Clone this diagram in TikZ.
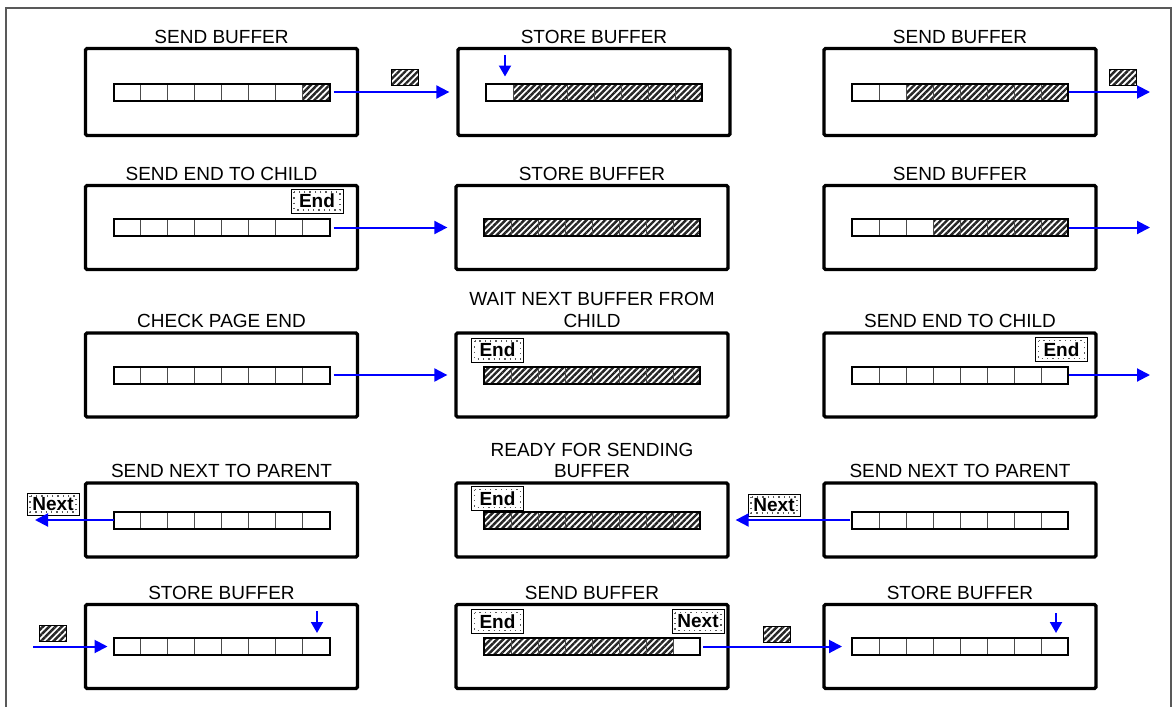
\documentclass[tikz,border=0pt]{standalone}
\usepackage{fontspec}
\setmainfont{Liberation Sans}
\usetikzlibrary{positioning,arrows.meta,patterns.meta}

% cells of a buffer: #1 buffer node, #2 first and #3 last hatched cell (0 = none)
\newcommand{\bufcells}[3]{%
  \ifnum#2>0
    \path[hatch] ([xshift=#2*27pt-27pt]#1.south west) rectangle ([xshift=#3*27pt]#1.north west);
  \fi
  \foreach \cellno in {1,...,7}
    \draw[divider] ([xshift=\cellno*27pt]#1.south west) -- ([xshift=\cellno*27pt]#1.north west);
  \draw[bufline] (#1.south west) rectangle (#1.north east);
}

\begin{document}
\begin{tikzpicture}[
  x=1pt, y=-1pt,
  % Node Styles
  statebox/.style={rectangle, draw, line width=3.3pt, rounded corners=1.5pt, minimum width=272pt, minimum height=84pt, inner sep=0pt},
  bufbar/.style={rectangle, minimum width=216pt, minimum height=17pt, inner sep=0pt, outer sep=0pt},
  title/.style={anchor=south, inner sep=0pt, align=center, font=\fontsize{19}{21}\selectfont},
  tagbox/.style={rectangle, draw=black, line width=0.6pt, fill=white, minimum width=52pt, minimum height=24pt, inner sep=0pt, font=\fontsize{19}{21}\selectfont\bfseries,
    path picture={\draw[gray!70!black, line width=1.3pt, dash pattern=on 1.3pt off 4pt] ([shift={(3pt,-3pt)}]path picture bounding box.north west) rectangle ([shift={(-3pt,3pt)}]path picture bounding box.south east);}},
  packet/.style={rectangle, draw, line width=0.8pt, hatch, minimum width=27pt, minimum height=16pt, inner sep=0pt},
  hatch/.style={pattern={Lines[angle=45, distance=4.4pt, line width=2.4pt]}, pattern color=black!85},
  divider/.style={gray!60!black, line width=1pt},
  bufline/.style={black, line width=2pt},
  frame/.style={gray!70!black, line width=1.2pt},
  % Arrow Styles
  flowarrow/.style={blue, line width=2pt, -{Triangle[length=13pt, width=13pt]}},
  pointer/.style={blue, line width=2pt, -{Triangle[length=11pt, width=12pt]}},
]
\useasboundingbox (0,0) rectangle (1173,707);
\draw[frame] (6,707) -- (6,8) -- (1171,8) -- (1171,707);

% Row 1
\node[statebox, minimum height=87pt] (b11) at (221.5,92) {};
\node[statebox, minimum height=87pt] (b12) at (594,92) {};
\node[statebox, minimum height=87pt] (b13) at (960,92) {};
\node[title] (t11) at ([yshift=3pt]b11.north) {SEND BUFFER};
\node[title] (t12) at ([yshift=3pt]b12.north) {STORE BUFFER};
\node[title] (t13) at ([yshift=3pt]b13.north) {SEND BUFFER};
\node[bufbar] (q11) at (221.5,92) {};
\node[bufbar] (q12) at (594,92) {};
\node[bufbar] (q13) at (960,92) {};
\bufcells{q11}{8}{8}
\bufcells{q12}{2}{8}
\bufcells{q13}{3}{8}
\node[packet] (k11) at (404.5,77.5) {};
\node[packet] (k13) at (1122.5,77.5) {};
\coordinate (o13) at (1150,92);
\coordinate (p12) at (505,55);
\draw[flowarrow, shorten <=4pt, shorten >=7pt] (q11.east) -- (b12.west);
\draw[flowarrow, shorten <=1pt] (q13.east) -- (o13);
\draw[pointer, shorten >=7pt] (p12) -- (p12 |- q12.north);

% Row 2
\node[statebox] (b21) at (221.5,227.5) {};
\node[statebox] (b22) at (592,227.5) {};
\node[statebox] (b23) at (960,227.5) {};
\node[title] (t21) at ([yshift=3pt]b21.north) {SEND END TO CHILD};
\node[title] (t22) at ([yshift=3pt]b22.north) {STORE BUFFER};
\node[title] (t23) at ([yshift=3pt]b23.north) {SEND BUFFER};
\node[bufbar] (q21) at (221.5,227.5) {};
\node[bufbar] (q22) at (592,227.5) {};
\node[bufbar] (q23) at (960,227.5) {};
\bufcells{q21}{0}{0}
\bufcells{q22}{1}{8}
\bufcells{q23}{4}{8}
\node[tagbox] (e21) at (317,201) {End};
\coordinate (o23) at (1150,227.5);
\draw[flowarrow, shorten <=4pt, shorten >=7pt] (q21.east) -- (b22.west);
\draw[flowarrow, shorten <=1pt] (q23.east) -- (o23);

% Row 3
\node[statebox] (b31) at (221.5,375) {};
\node[statebox] (b32) at (592,375) {};
\node[statebox] (b33) at (960,375) {};
\node[title] (t31) at ([yshift=3pt]b31.north) {CHECK PAGE END};
\node[title, font=\fontsize{19}{22}\selectfont] (t32) at ([yshift=3pt]b32.north) {WAIT NEXT BUFFER FROM\\CHILD};
\node[title] (t33) at ([yshift=3pt]b33.north) {SEND END TO CHILD};
\node[bufbar] (q31) at (221.5,375) {};
\node[bufbar] (q32) at (592,375) {};
\node[bufbar] (q33) at (960,375) {};
\bufcells{q31}{0}{0}
\bufcells{q32}{1}{8}
\bufcells{q33}{0}{0}
\node[tagbox] (e32) at (497.5,350) {End};
\node[tagbox] (e33) at (1061.5,349.5) {End};
\coordinate (o33) at (1150,375);
\draw[flowarrow, shorten <=4pt, shorten >=7pt] (q31.east) -- (b32.west);
\draw[flowarrow, shorten <=1pt] (q33.east) -- (o33);

% Row 4
\node[statebox, minimum height=74pt] (b41) at (221.5,520) {};
\node[statebox, minimum height=74pt] (b42) at (592,520) {};
\node[statebox, minimum height=74pt] (b43) at (960,520) {};
\node[title] (t41) at ([yshift=3pt]b41.north) {SEND NEXT TO PARENT};
\node[title] (t42) at ([yshift=3pt]b42.north) {READY FOR SENDING\\BUFFER};
\node[title] (t43) at ([yshift=3pt]b43.north) {SEND NEXT TO PARENT};
\node[bufbar] (q41) at (221.5,520) {};
\node[bufbar] (q42) at (592,520) {};
\node[bufbar] (q43) at (960,520) {};
\bufcells{q41}{0}{0}
\bufcells{q42}{1}{8}
\bufcells{q43}{0}{0}
\node[tagbox, minimum height=22pt] (n41) at (53,504) {Next};
\node[tagbox] (e42) at (497.5,498.5) {End};
\node[tagbox, minimum height=22pt] (n42) at (774,505) {Next};
\coordinate (o41) at (35,520);
\draw[flowarrow] (q41.west) -- (o41);
\draw[flowarrow, shorten <=2pt, shorten >=6pt] (q43.west) -- (b42.east);

% Row 5
\node[statebox] (b51) at (221.5,646.5) {};
\node[statebox] (b52) at (592,646.5) {};
\node[statebox] (b53) at (960,646.5) {};
\node[title] (t51) at ([yshift=3pt]b51.north) {STORE BUFFER};
\node[title] (t52) at ([yshift=3pt]b52.north) {SEND BUFFER};
\node[title] (t53) at ([yshift=3pt]b53.north) {STORE BUFFER};
\node[bufbar] (q51) at (221.5,646.5) {};
\node[bufbar] (q52) at (592,646.5) {};
\node[bufbar] (q53) at (960,646.5) {};
\bufcells{q51}{0}{0}
\bufcells{q52}{1}{7}
\bufcells{q53}{0}{0}
\node[tagbox] (e52) at (497.5,621.5) {End};
\node[tagbox] (n52) at (698,621.5) {Next};
\node[packet] (k51) at (53,633) {};
\node[packet] (k52) at (776.5,634.5) {};
\coordinate (i51) at (33,646.5);
\coordinate (p51) at (317,611);
\coordinate (p53) at (1056,613);
\draw[flowarrow, shorten >=6pt] (i51) -- (q51.west);
\draw[flowarrow, shorten <=3pt, shorten >=10pt] (q52.east) -- (q53.west);
\draw[pointer, shorten >=5pt] (p51) -- (p51 |- q51.north);
\draw[pointer, shorten >=5pt] (p53) -- (p53 |- q53.north);

\end{tikzpicture}
\end{document}
